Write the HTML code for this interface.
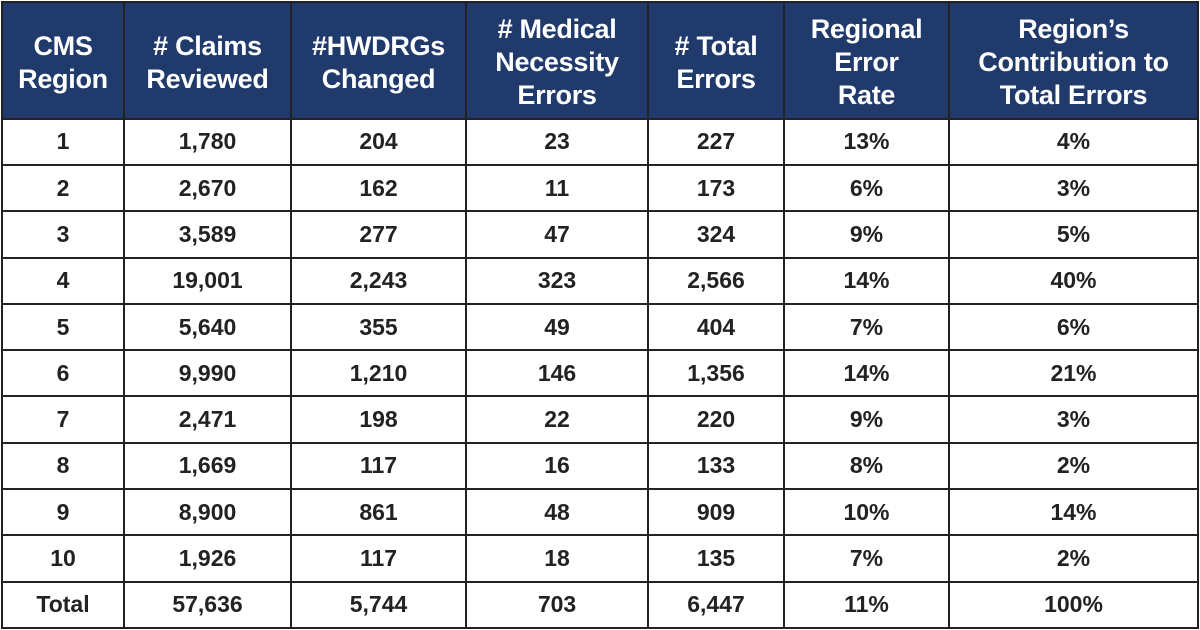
<!DOCTYPE html>
<html><head><meta charset="utf-8"><style>
body{margin:0;width:1200px;height:630px;background:#fff;overflow:hidden}
table{border-collapse:collapse;position:absolute;left:1px;top:1px;width:1198px;height:628px;table-layout:fixed;font-family:"Liberation Sans",Arial,sans-serif;font-weight:bold}
td,th{border:2px solid #222;text-align:center;padding:0}
th{background:#1f3a6b;color:#fff;font-size:27px;line-height:33px;height:109px;padding-top:5px;letter-spacing:-0.3px}
td{font-size:23px;color:#222;height:44px}
</style></head><body>
<table>
<colgroup><col style="width:122px"><col style="width:167px"><col style="width:175px"><col style="width:182px"><col style="width:136px"><col style="width:165px"><col></colgroup>
<tr>
<th>CMS<br>Region</th>
<th># Claims<br>Reviewed</th>
<th>#HWDRGs<br>Changed</th>
<th># Medical<br>Necessity<br>Errors</th>
<th># Total<br>Errors</th>
<th>Regional<br>Error<br>Rate</th>
<th>Region’s<br>Contribution to<br>Total Errors</th>
</tr>
<tr><td>1</td><td>1,780</td><td>204</td><td>23</td><td>227</td><td>13%</td><td>4%</td></tr>
<tr><td>2</td><td>2,670</td><td>162</td><td>11</td><td>173</td><td>6%</td><td>3%</td></tr>
<tr><td>3</td><td>3,589</td><td>277</td><td>47</td><td>324</td><td>9%</td><td>5%</td></tr>
<tr><td>4</td><td>19,001</td><td>2,243</td><td>323</td><td>2,566</td><td>14%</td><td>40%</td></tr>
<tr><td>5</td><td>5,640</td><td>355</td><td>49</td><td>404</td><td>7%</td><td>6%</td></tr>
<tr><td>6</td><td>9,990</td><td>1,210</td><td>146</td><td>1,356</td><td>14%</td><td>21%</td></tr>
<tr><td>7</td><td>2,471</td><td>198</td><td>22</td><td>220</td><td>9%</td><td>3%</td></tr>
<tr><td>8</td><td>1,669</td><td>117</td><td>16</td><td>133</td><td>8%</td><td>2%</td></tr>
<tr><td>9</td><td>8,900</td><td>861</td><td>48</td><td>909</td><td>10%</td><td>14%</td></tr>
<tr><td>10</td><td>1,926</td><td>117</td><td>18</td><td>135</td><td>7%</td><td>2%</td></tr>
<tr><td>Total</td><td>57,636</td><td>5,744</td><td>703</td><td>6,447</td><td>11%</td><td>100%</td></tr>
</table>
</body></html>
